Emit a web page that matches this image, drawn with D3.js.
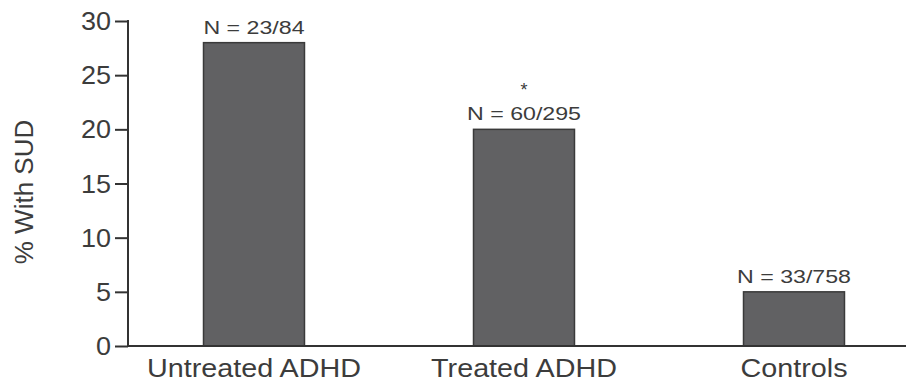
<!DOCTYPE html>
<html>
  <head>
    <script src="https://d3js.org/d3.v7.min.js"></script>
    <style>
      body { margin: 0; background: #fff; }
      text { font-family: "Liberation Sans", Arial, sans-serif; fill: #3c3c3c; }
    </style>
  </head>
  <body>
    <svg width="906" height="385"></svg>
    <script>
      const categories = ["Untreated ADHD", "Treated ADHD", "Controls"];
      const values = [28, 20, 5];
      const nLabels = ["N = 23/84", "N = 60/295", "N = 33/758"];
      const marks = ["", "*", ""];
      const yTicks = [0, 5, 10, 15, 20, 25, 30];

      const svg = d3.select("svg");
      const width = +svg.attr("width");

      const axisX = 128, baseY = 346, topY = 21;

      const x = d3.scaleBand()
        .domain(categories)
        .range([119, 929])
        .paddingInner(0.626)
        .paddingOuter(0.313);
      const cx = d => x(d) + x.bandwidth() / 2;

      const y = d3.scaleLinear()
        .domain([0, 30])
        .range([baseY, topY]);

      // bars
      svg.selectAll("rect.bar").data(categories)
        .enter().append("rect")
          .attr("class", "bar")
          .attr("x", d => x(d))
          .attr("y", (d, i) => y(values[i]))
          .attr("width", x.bandwidth())
          .attr("height", (d, i) => baseY - y(values[i]))
          .attr("fill", "#616163")
          .attr("stroke", "#3a3a3a")
          .attr("stroke-width", 1.5);

      // y axis
      const yAxis = svg.append("g")
        .attr("transform", `translate(${axisX},0)`)
        .call(d3.axisLeft(y).tickValues(yTicks).tickSize(13).tickPadding(4));
      yAxis.select(".domain").remove();
      yAxis.selectAll(".tick line").attr("stroke", "#333").attr("stroke-width", 2);
      yAxis.selectAll(".tick text")
        .attr("x", 0).attr("dy", null)
        .attr("transform", "translate(-17,0) scale(1.08,1)")
        .attr("dominant-baseline", "central")
        .attr("font-size", 25)
        .attr("fill", "#3c3c3c")
        .style("font-family", "'Liberation Sans', Arial, sans-serif");

      svg.append("line")
        .attr("x1", axisX).attr("x2", axisX)
        .attr("y1", topY - 1).attr("y2", baseY + 1)
        .attr("stroke", "#333").attr("stroke-width", 2);

      // x axis line
      svg.append("line")
        .attr("x1", axisX - 1).attr("x2", width)
        .attr("y1", baseY).attr("y2", baseY)
        .attr("stroke", "#333").attr("stroke-width", 2);

      // category labels
      svg.selectAll("text.cat").data(categories)
        .enter().append("text")
          .attr("class", "cat")
          .attr("transform", d => `translate(${cx(d)},377) scale(1.15,1)`)
          .attr("text-anchor", "middle")
          .attr("font-size", 25)
          .text(d => d);

      // N labels
      svg.selectAll("text.n").data(categories)
        .enter().append("text")
          .attr("class", "n")
          .attr("transform", (d, i) => `translate(${cx(d)},${y(values[i]) - 9}) scale(1.22,1)`)
          .attr("text-anchor", "middle")
          .attr("font-size", 19)
          .text((d, i) => nLabels[i]);

      // significance marks
      svg.selectAll("text.sig").data(categories)
        .enter().append("text")
          .attr("class", "sig")
          .attr("x", cx)
          .attr("y", (d, i) => y(values[i]) - 33)
          .attr("text-anchor", "middle")
          .attr("font-size", 18)
          .text((d, i) => marks[i]);

      // y title
      svg.append("text")
        .attr("transform", "translate(33,192) rotate(-90) scale(1.04,1)")
        .attr("text-anchor", "middle")
        .attr("font-size", 25)
        .text("% With SUD");
    </script>
  </body>
</html>
